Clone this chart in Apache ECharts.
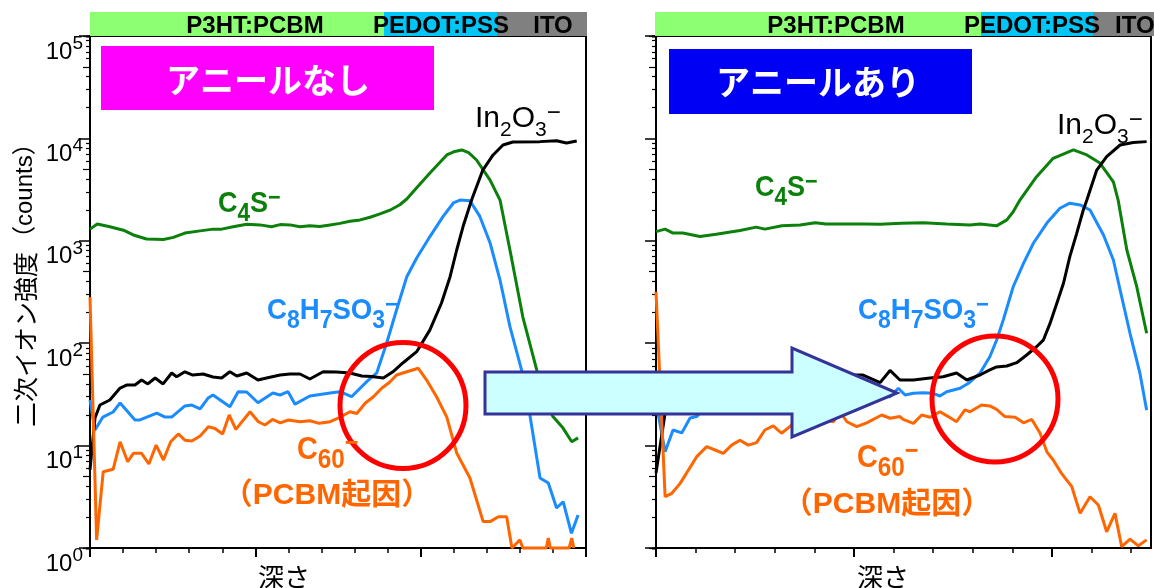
<!DOCTYPE html>
<html><head><meta charset="utf-8">
<script src="https://cdn.jsdelivr.net/npm/echarts@6/dist/echarts.min.js"></script>
<style>html,body{margin:0;padding:0;background:#fff}#c{width:1154px;height:588px}</style>
</head><body><div id="c"></div>
<script>
// ---------- labels / ticks ----------
const yExponents = [0, 1, 2, 3, 4, 5];
const layerNames = ['P3HT:PCBM', 'PEDOT:PSS', 'ITO'];
const panelTitles = ['アニールなし', 'アニールあり'];
const yTitleMain = '二次イオン強度';
const yTitleUnit = '（counts）';
const xTitle = '深さ';
const c60Note = '（PCBM起因）';
const minorFactors = [2, 3, 4, 5, 6, 7, 8, 9];
const xMaxLeft = 15;
const xMaxRight = 12.5;

// ---------- data: [depth (arb. units), counts] ----------
const leftC4S = [[0,1300],[0.22,1460],[0.60,1370],[1.01,1270],[1.31,1140],[1.71,1040],[2.22,1030],[2.52,1080],[2.87,1190],[3.33,1250],[3.73,1300],[3.98,1300],[4.33,1370],[4.74,1450],[5.14,1430],[5.49,1370],[5.75,1440],[6.05,1430],[6.35,1370],[6.65,1400],[6.95,1380],[7.26,1430],[7.56,1480],[7.86,1550],[8.17,1600],[8.47,1700],[8.77,1830],[9.07,1990],[9.37,2250],[9.58,2560],[9.88,3300],[10.28,4590],[10.79,6890],[11.0,7400],[11.24,7710],[11.45,7250],[11.69,6150],[12.10,3920],[12.40,2500],[12.70,813],[13.09,180],[13.51,54.8],[13.76,29.1],[14.00,19.2],[14.30,14.9],[14.57,10.9],[14.76,11.9]];
const leftC8H7SO3 = [[0,27.9],[0.15,14.2],[0.39,19.0],[0.70,21.3],[0.91,26.1],[1.36,17.8],[1.51,17.8],[2.02,20.8],[2.27,19.0],[2.47,19.0],[2.87,24.4],[3.08,24.9],[3.33,22.8],[3.57,29.1],[3.72,31.2],[4.23,24.0],[4.48,33.6],[4.74,33.4],[5.08,26.2],[5.53,32.6],[5.75,31.2],[5.99,33.6],[6.20,25.4],[6.65,30.5],[7.26,32.6],[7.56,33.6],[7.91,30.0],[8.37,42.1],[8.67,51.2],[8.97,100],[9.27,211],[9.58,446],[9.88,679],[10.28,1100],[10.68,1730],[10.99,2340],[11.19,2500],[11.49,2460],[11.79,1730],[12.10,952],[12.40,414],[12.70,145],[13.05,54.8],[13.31,19.2],[13.61,4.83],[13.86,4.31],[14.11,2.46],[14.31,2.83],[14.56,1.39],[14.76,2.10]];
const leftIn2O3 = [[0,5.8],[0.15,18.6],[0.30,24.9],[0.60,27.9],[0.91,36.5],[1.12,39.1],[1.36,39.1],[1.56,43.7],[1.75,40.0],[1.97,45.7],[2.21,40.0],[2.47,51.2],[2.62,47.0],[2.87,52.6],[3.11,48.9],[3.42,50.0],[3.72,46.8],[3.98,45.7],[4.23,52.6],[4.44,47.8],[4.74,51.2],[5.08,43.7],[5.34,45.7],[5.75,48.9],[6.05,50.0],[6.35,50.0],[6.65,44.7],[7.05,52.6],[7.46,52.3],[7.86,51.2],[8.22,47.8],[8.52,47.2],[8.87,45.7],[9.16,52.6],[9.46,64.1],[9.88,82.6],[10.28,135],[10.63,247],[10.89,446],[11.09,813],[11.28,1370],[11.54,2500],[11.88,4910],[12.19,6890],[12.49,8620],[12.79,9220],[13.61,9300],[14.11,9500],[14.41,9020],[14.72,9440]];
const leftC60 = [[0,282],[0.20,1.2],[0.40,5.56],[0.70,5.87],[0.91,10.9],[1.14,6.95],[1.31,8.4],[1.56,8.4],[1.78,6.61],[2.00,10.1],[2.22,7.23],[2.44,10.9],[2.67,13.0],[2.87,11.3],[3.08,11.1],[3.33,12.4],[3.58,15.3],[3.78,14.7],[4.01,13.0],[4.21,19.9],[4.41,14.4],[4.84,21.4],[5.09,17.1],[5.29,15.9],[5.52,18.0],[5.75,16.7],[6.00,17.8],[6.35,17.1],[6.65,17.5],[6.93,16.5],[7.26,17.1],[7.56,18.9],[7.86,21.4],[8.07,20.6],[8.32,25.9],[8.57,30.0],[8.82,36.3],[9.07,41.8],[9.27,48.9],[9.58,52.6],[9.93,56.9],[10.18,43.7],[10.48,30.0],[10.79,19.0],[11.09,8.47],[11.49,4.83],[11.89,1.81],[12.10,1.81],[12.35,2.02],[12.60,2.02],[12.76,1],[13.00,1.2],[13.09,1],[13.80,1],[13.86,1.25],[13.92,1],[14.49,1],[14.57,1.25],[14.63,1]];

const rightC4S = [[0,1230],[0.23,1300],[0.43,1190],[0.68,1190],[1.11,1100],[1.52,1160],[2.12,1260],[2.53,1360],[2.75,1300],[3.18,1400],[3.64,1430],[4.02,1500],[4.29,1460],[4.65,1460],[5.30,1460],[5.66,1450],[6.2,1480],[6.75,1500],[7.34,1460],[7.93,1430],[8.18,1460],[8.60,1400],[8.86,1600],[9.02,1920],[9.19,2500],[9.61,4230],[10.03,6390],[10.54,7710],[10.88,6890],[11.21,5750],[11.55,3770],[11.67,2500],[11.89,813],[12.14,356],[12.39,125]];
const rightC8H7SO3 = [[0,25],[0.05,20.8],[0.23,8.7],[0.43,14.2],[0.65,13.3],[0.86,18.6],[1.03,19.2],[1.11,20.8],[1.5,24],[2.0,26],[2.5,25],[3.0,27],[3.5,28],[4.0,29],[4.5,30],[5.0,31],[5.5,31],[5.91,30.0],[6.12,36.3],[6.29,31.2],[6.50,32.4],[6.75,32.9],[7.00,32.4],[7.17,30.5],[7.34,33.6],[7.68,36.3],[7.89,40.6],[8.18,50.9],[8.43,73.7],[8.60,107],[8.77,169],[9.02,356],[9.28,603],[9.53,946],[9.87,1490],[10.20,2080],[10.45,2330],[10.71,2240],[10.96,2000],[11.30,1140],[11.55,650],[11.72,331],[11.97,125],[12.22,50.9],[12.39,22.2]];
const rightIn2O3 = [[0,5.4],[0.23,20.8],[0.45,31.2],[0.8,36.5],[1.3,40.0],[1.8,41.8],[2.3,44.7],[2.8,40.9],[3.3,45.7],[3.8,42.7],[4.3,46.8],[4.8,48.9],[5.23,48.9],[5.66,41.2],[5.91,54.2],[6.16,43.7],[6.50,43.7],[6.92,45.7],[7.25,47.0],[7.59,51.2],[7.85,43.7],[8.18,48.9],[8.43,54.8],[8.60,58.6],[8.86,59.9],[9.11,64.5],[9.36,76.7],[9.61,92.3],[9.78,107],[9.95,156],[10.12,244],[10.29,385],[10.45,700],[10.62,1170],[10.79,2000],[10.88,2500],[11.13,4910],[11.38,6630],[11.72,8620],[12.05,9120],[12.39,9300]];
const rightC60 = [[0,318],[0.23,3.17],[0.40,3.42],[0.61,4.28],[0.82,5.78],[1.03,7.8],[1.28,9.76],[1.49,9.06],[1.70,8.4],[1.91,10.1],[2.12,11.3],[2.33,10.1],[2.54,10.7],[2.75,14.2],[2.96,15.6],[3.17,13.2],[3.38,15.3],[3.64,20],[3.98,19],[4.48,17.1],[4.65,21.4],[4.82,17.1],[5.07,15.3],[5.32,16.7],[5.70,19.9],[5.91,18.5],[6.16,19.2],[6.24,18.0],[6.50,16.5],[6.71,19.9],[6.92,18.9],[7.17,21.4],[7.38,19.2],[7.59,17.1],[7.80,22.3],[7.93,21.4],[8.22,24.9],[8.43,24.4],[8.60,22.6],[8.81,19.2],[9.07,18.9],[9.28,16.7],[9.49,18.0],[9.70,13.2],[9.87,8.7],[10.03,7.23],[10.24,5.36],[10.50,3.97],[10.71,2.18],[10.96,3.17],[11.17,2.63],[11.38,1.44],[11.59,2.18],[11.76,1.03],[11.97,1.22],[12.18,1.05],[12.39,1.20]];

// ---------- styles ----------
const GREEN = '#0b800b', BLUE = '#1a8cff', BLACK = '#000000', ORANGE = '#ff6600';
const FONT_LAT = '"Liberation Sans", Arial, sans-serif';
const FONT_JP = '"Noto Sans CJK JP", sans-serif';
const FONT_MIX = '"Liberation Sans", "Noto Sans CJK JP", sans-serif';

const panels = [
  { left: 90, width: 496, xMax: xMaxLeft },
  { left: 656, width: 495, xMax: xMaxRight }
];
const TOP = 36, HEIGHT = 512;

function range(a, b, step) { const r = []; for (let v = a; v <= b + 1e-9; v += step) r.push(v); return r; }

const grid = panels.map(p => ({ left: p.left, top: TOP, width: p.width, height: HEIGHT, show: true,
  borderColor: '#000', borderWidth: 2, backgroundColor: 'transparent', containLabel: false, outerBoundsMode: 'none' }));

const xAxis = [];
panels.forEach((p, i) => {
  xAxis.push({ gridIndex: i, type: 'value', min: 0, max: p.xMax, interval: 1, position: 'bottom',
    axisLine: { show: true, onZero: false, lineStyle: { color: '#000', width: 2 } },
    axisTick: { show: true, length: 5, lineStyle: { color: '#000', width: 1.5 }, customValues: range(0, Math.floor(p.xMax), 1) },
    axisLabel: { show: false }, splitLine: { show: false } });
  xAxis.push({ gridIndex: i, type: 'value', min: 0, max: p.xMax, interval: 5, position: 'bottom',
    axisLine: { show: false, onZero: false },
    axisTick: { show: true, length: 9, lineStyle: { color: '#000', width: 2 }, customValues: range(0, p.xMax, 5) },
    axisLabel: { show: false }, splitLine: { show: false } });
});

const yAxis = [];
panels.forEach((p, i) => {
  yAxis.push({ gridIndex: i, type: 'log', logBase: 10, min: Math.pow(10, yExponents[0]), max: Math.pow(10, yExponents[yExponents.length - 1]),
    position: 'left',
    axisLine: { show: true, onZero: false, lineStyle: { color: '#000', width: 2 } },
    axisTick: { show: true, length: 11, lineStyle: { color: '#000', width: 1.5 } },
    axisLabel: { show: i === 0, margin: 7, verticalAlign: 'top',
      formatter: v => '{b|10}{s|' + Math.round(Math.log10(v)) + '}',
      rich: {
        b: { fontSize: 24, height: 32, verticalAlign: 'top', fontFamily: FONT_LAT, color: '#000' },
        s: { fontSize: 19, height: 15, verticalAlign: 'top', fontFamily: FONT_LAT, color: '#000' }
      } },
    splitLine: { show: false } });
  minorFactors.forEach(k => {
    yAxis.push({ gridIndex: i, type: 'log', logBase: 10, min: 1 / k, max: 1e5 / k, position: 'left',
      axisLine: { show: false, onZero: false },
      axisTick: { show: true, length: k === 5 ? 7 : 4, lineStyle: { color: '#000', width: 1.2 } },
      axisLabel: { show: false }, splitLine: { show: false } });
  });
});

const seriesDefs = [
  { panel: 0, name: 'C4S-', data: leftC4S, color: GREEN },
  { panel: 0, name: 'C8H7SO3-', data: leftC8H7SO3, color: BLUE },
  { panel: 0, name: 'In2O3-', data: leftIn2O3, color: BLACK },
  { panel: 0, name: 'C60-', data: leftC60, color: ORANGE },
  { panel: 1, name: 'C4S-', data: rightC4S, color: GREEN },
  { panel: 1, name: 'C8H7SO3-', data: rightC8H7SO3, color: BLUE },
  { panel: 1, name: 'In2O3-', data: rightIn2O3, color: BLACK },
  { panel: 1, name: 'C60-', data: rightC60, color: ORANGE }
];
const series = seriesDefs.map(d => ({
  type: 'line', name: d.name, xAxisIndex: d.panel * 2, yAxisIndex: d.panel * (1 + minorFactors.length),
  data: d.data, showSymbol: false, symbol: 'none', clip: false, z: 3,
  lineStyle: { color: d.color, width: 3 }, itemStyle: { color: d.color }
}));

// ---------- annotations ----------
function ionRich(color, weight, m, s, sH, p, pH) {
  return {
    m: { fontSize: m, height: m, verticalAlign: 'top', fontFamily: FONT_LAT, fontWeight: weight, fill: color },
    s: { fontSize: s, height: sH, verticalAlign: 'top', fontFamily: FONT_LAT, fontWeight: weight, fill: color },
    p: { fontSize: p, height: pH, verticalAlign: 'top', fontFamily: FONT_LAT, fontWeight: weight, fill: color }
  };
}
const richC4S = ionRich(GREEN, 'bold', 30, 25, 50, 24, 18);
const richC8 = ionRich(BLUE, 'bold', 30, 25, 50, 24, 18);
const richIn = ionRich(BLACK, 'normal', 30, 21, 52, 24, 18);
const richC60 = ionRich(ORANGE, 'bold', 32, 27, 54, 26, 19);

function richText(x, y, text, rich, sx) {
  return { type: 'text', x: x, y: y, z: 100, scaleX: sx || 1, style: { text: text, rich: rich, align: 'left', verticalAlign: 'top' } };
}
function plainText(x, y, text, size, color, family, weight, align, z, rot) {
  return { type: 'text', x: x, y: y, z: z || 100, rotation: rot || 0,
    style: { text: text, fontSize: size, fontFamily: family, fontWeight: weight || 'normal', fill: color, align: align || 'center', verticalAlign: 'middle' } };
}

const txtC4S = '{m|C}{s|4}{m|S}{p|−}';
const txtC8 = '{m|C}{s|8}{m|H}{s|7}{m|SO}{s|3}{p|−}';
const txtIn = '{m|In}{s|2}{m|O}{s|3}{p|−}';
const txtC60 = '{m|C}{s|60}{p|−}';

const graphic = [
  // layer bars
  { type: 'rect', z: 5, shape: { x: 90, y: 12, width: 294, height: 24 }, style: { fill: '#8cff73' } },
  { type: 'rect', z: 5, shape: { x: 384, y: 12, width: 113, height: 24 }, style: { fill: '#00c5f5' } },
  { type: 'rect', z: 5, shape: { x: 497, y: 12, width: 90, height: 24 }, style: { fill: '#808080' } },
  { type: 'rect', z: 5, shape: { x: 655, y: 12, width: 326, height: 24 }, style: { fill: '#8cff73' } },
  { type: 'rect', z: 5, shape: { x: 981, y: 12, width: 112, height: 24 }, style: { fill: '#00c5f5' } },
  { type: 'rect', z: 5, shape: { x: 1093, y: 12, width: 61, height: 24 }, style: { fill: '#808080' } },
  plainText(255, 26, layerNames[0], 24, '#000', FONT_LAT, 'bold'),
  plainText(441, 26, layerNames[1], 24, '#000', FONT_LAT, 'bold'),
  plainText(553, 26, layerNames[2], 24, '#000', FONT_LAT, 'bold'),
  plainText(836, 26, layerNames[0], 24, '#000', FONT_LAT, 'bold'),
  plainText(1032, 26, layerNames[1], 24, '#000', FONT_LAT, 'bold'),
  plainText(1115, 26, layerNames[2], 24, '#000', FONT_LAT, 'bold', 'left'),
  // panel titles
  { type: 'rect', z: 5, shape: { x: 101, y: 46, width: 333, height: 64 }, style: { fill: '#ff00ff' } },
  plainText(268, 80, panelTitles[0], 34, '#fff', FONT_JP, 'bold'),
  { type: 'rect', z: 5, shape: { x: 669, y: 49, width: 303, height: 65 }, style: { fill: '#0000f5' } },
  plainText(818, 82, panelTitles[1], 34, '#fff', FONT_JP, 'bold'),
  // axis titles (rotated, reading bottom to top, anchored at their lower ends)
  plainText(25, 427, yTitleMain, 25, '#000', FONT_JP, 'normal', 'left', 100, Math.PI / 2),
  plainText(25, 250, yTitleUnit, 24, '#000', FONT_MIX, 'normal', 'left', 100, Math.PI / 2),
  plainText(284, 577, xTitle, 26, '#000', FONT_JP, 'normal'),
  plainText(883, 577, xTitle, 26, '#000', FONT_JP, 'normal'),
  // circles
  { type: 'circle', z: 80, shape: { cx: 403, cy: 405.5, r: 63 }, style: { fill: 'none', stroke: '#ff0000', lineWidth: 5 } },
  { type: 'circle', z: 80, shape: { cx: 995, cy: 399, r: 63 }, style: { fill: 'none', stroke: '#ff0000', lineWidth: 5 } },
  // arrow
  { type: 'polygon', z: 90, shape: { points: [[485, 372], [792, 372], [792, 348], [897, 393], [792, 437], [792, 414], [485, 414]] },
    style: { fill: '#ccffff', stroke: '#333399', lineWidth: 3 } },
  // ion labels
  richText(218, 189, txtC4S, richC4S, 0.9),
  richText(755, 173, txtC4S, richC4S, 0.9),
  richText(267, 296, txtC8, richC8, 0.92),
  richText(858, 296, txtC8, richC8, 0.92),
  richText(475, 104, txtIn, richIn, 1),
  richText(1057, 111, txtIn, richIn, 1),
  richText(297, 434, txtC60, richC60, 0.9),
  richText(857, 442, txtC60, richC60, 0.9),
  plainText(327, 496, c60Note, 30, ORANGE, FONT_MIX, 'bold'),
  plainText(887, 505, c60Note, 30, ORANGE, FONT_MIX, 'bold')
];

const chart = echarts.init(document.getElementById('c'), null, { renderer: 'canvas', width: 1154, height: 588 });
chart.setOption({
  animation: false,
  backgroundColor: '#ffffff',
  grid: grid,
  xAxis: xAxis,
  yAxis: yAxis,
  series: series,
  graphic: graphic
});
</script>
</body></html>
